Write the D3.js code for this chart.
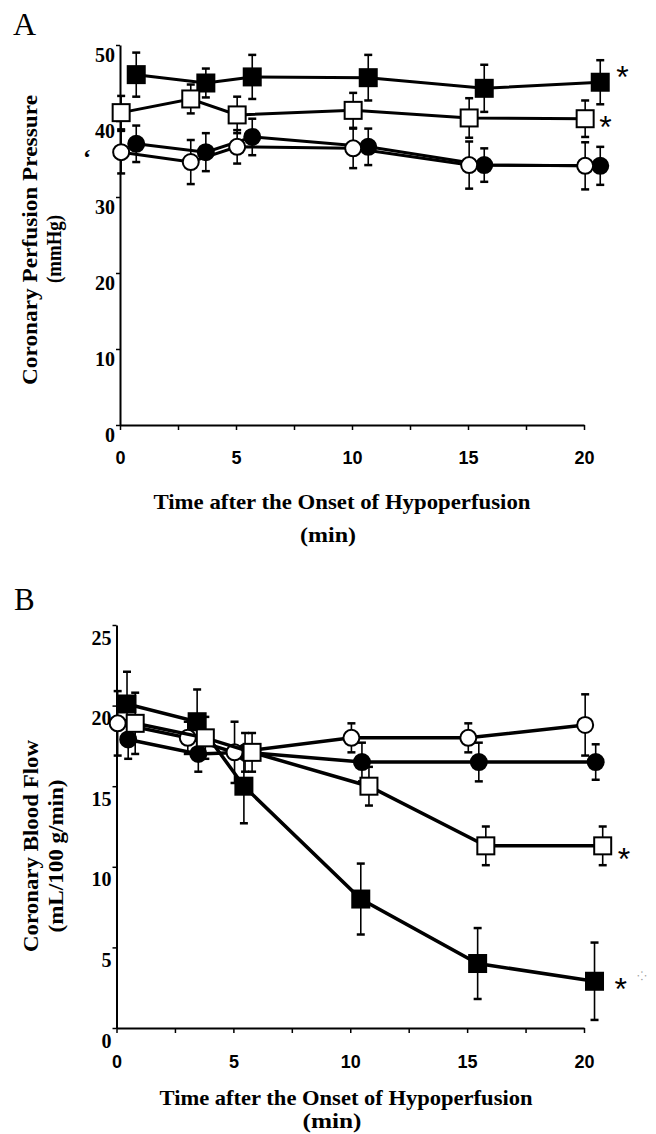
<!DOCTYPE html>
<html><head><meta charset="utf-8">
<script src="https://cdn.jsdelivr.net/npm/d3@7"></script>
<style>body{margin:0;background:#fff}svg{display:block}</style>
</head><body>
<script>
// ---------- data ----------
const times = [0, 3, 5, 10, 15, 20];
const xTickLabels = [0, 5, 10, 15, 20];
const xMinorTicks = [2.5, 7.5, 12.5, 17.5];

// Panel A: coronary perfusion pressure (mmHg)
const yTicksA = [0, 10, 20, 30, 40, 50];
const A_filledSquare    = [46.1, 45.0, 45.8, 45.7, 44.3, 45.1];
const A_filledSquareErr = [2.9, 1.9, 2.9, 3.0, 3.1, 2.9];
const A_openSquare      = [41.1, 42.9, 40.8, 41.4, 40.4, 40.3];
const A_openSquareErr   = [2.2, 1.9, 2.4, 2.3, 2.6, 2.4];
const A_openCircle      = [35.9, 34.6, 36.6, 36.4, 34.2, 34.1];
const A_openCircleErr   = [2.8, 2.9, 2.2, 2.6, 3.1, 3.1];
const A_filledCircle    = [37.0, 35.9, 37.9, 36.6, 34.2, 34.1];
const A_filledCircleErr = [2.4, 2.5, 2.4, 2.4, 2.2, 2.5];

// Panel B: coronary blood flow (mL/100 g/min)
const yTicksB = [0, 5, 10, 15, 20, 25];
const B_filledSquare    = [20.1, 19.0, 15.0, 8.0, 4.0, 2.9];
const B_filledSquareErr = [2.0, 2.0, 2.3, 2.2, 2.2, 2.4];
const B_openSquare      = [18.9, 18.0, 17.1, 15.0, 11.3, 11.3];
const B_openSquareErr   = [1.9, 1.3, 1.2, 1.2, 1.2, 1.2];
const B_openCircle      = [18.9, 18.0, 17.1, 18.0, 18.0, 18.8];
const B_openCircleErr   = [2.0, 1.0, 1.9, 0.9, 0.9, 1.9];
const B_filledCircle    = [17.9, 17.0, 17.1, 16.5, 16.5, 16.5];
const B_filledCircleErr = [1.2, 1.1, 1.2, 1.2, 1.2, 1.1];

// ---------- drawing ----------
const W = 656, H = 1134;
const svg = d3.select("body").append("svg").attr("width", W).attr("height", H)
  .style("background", "#fff");

const serif = "'Liberation Serif','Times New Roman',serif";
const sans = "'Liberation Sans',Arial,sans-serif";

function panel(cfg) {
  const x = d3.scaleLinear().domain([0, 20]).range(cfg.xRange);
  const y = d3.scaleLinear().domain([0, d3.max(cfg.yTicks)]).range(cfg.yRange);
  const g = svg.append("g");

  // y axis
  const ya = g.append("g").attr("transform", `translate(${cfg.xRange[0]},0)`)
    .call(d3.axisLeft(y).tickValues(cfg.yTicks).tickSize(4).tickSizeOuter(0).tickPadding(4));
  ya.attr("font-size", null).attr("font-family", null);
  ya.select(".domain").attr("stroke", "#000").attr("stroke-width", 2);
  ya.selectAll(".tick line").attr("stroke", "#000").attr("stroke-width", 1.5);
  ya.selectAll(".tick text").style("font-family", serif).style("font-weight", "bold")
    .style("font-size", "20px").attr("fill", "#000").attr("x", -5).attr("dy", cfg.yLabDy);

  // x axis
  const xa = g.append("g").attr("transform", `translate(0,${cfg.yRange[0]})`)
    .call(d3.axisBottom(x).tickValues(xTickLabels.concat(xMinorTicks)).tickSize(5).tickSizeOuter(0)
      .tickFormat(d => xTickLabels.includes(d) ? d : ""));
  xa.attr("font-size", null).attr("font-family", null);
  xa.select(".domain").attr("stroke", "#000").attr("stroke-width", 2);
  xa.selectAll(".tick line").attr("stroke", "#000").attr("stroke-width", 1.5);
  xa.selectAll(".tick text").style("font-family", sans).style("font-weight", "bold")
    .style("font-size", "18px").attr("fill", "#000").attr("y", cfg.xLabY).attr("dy", 0);

  // series
  cfg.series.forEach(s => {
    const pts = times.map((t, i) => ({ t: t + s.off, v: s.values[i], e: s.errs[i] }));
    const eg = g.append("g");
    pts.forEach(p => {
      eg.append("line").attr("x1", x(p.t)).attr("x2", x(p.t))
        .attr("y1", y(p.v - p.e)).attr("y2", y(p.v + p.e))
        .attr("stroke", "#000").attr("stroke-width", 1.6);
      [p.v - p.e, p.v + p.e].forEach(v => eg.append("line")
        .attr("x1", x(p.t) - 4).attr("x2", x(p.t) + 4).attr("y1", y(v)).attr("y2", y(v))
        .attr("stroke", "#000").attr("stroke-width", 2.5));
    });
    g.append("path").datum(pts)
      .attr("d", d3.line().x(p => x(p.t)).y(p => y(p.v)))
      .attr("fill", "none").attr("stroke", "#000").attr("stroke-width", cfg.lw);
    s.g = g.append("g");
    s.pts = pts;
  });
  // markers drawn afterwards (in series order)
  cfg.series.forEach(s => {
    s.pts.forEach(p => {
      if (s.shape === "square") {
        s.g.append("rect").attr("x", x(p.t) - 8.5).attr("y", y(p.v) - 8.5)
          .attr("width", 17).attr("height", 17)
          .attr("fill", s.filled ? "#000" : "#fff").attr("stroke", "#000").attr("stroke-width", 2);
      } else {
        s.g.append("circle").attr("cx", x(p.t)).attr("cy", y(p.v)).attr("r", 8)
          .attr("fill", s.filled ? "#000" : "#fff").attr("stroke", "#000").attr("stroke-width", 2);
      }
    });
  });

  // asterisks
  cfg.stars.forEach(st => {
    const last = st.series.pts[st.series.pts.length - 1];
    g.append("text").attr("x", x(last.t) + st.dx).attr("y", y(last.v) + 19 + (st.dy || 0))
      .attr("font-family", sans).attr("font-size", 32).attr("fill", "#000").text("*");
  });
  return { x, y, g };
}

// Panel A
const sA = [
  { values: A_filledCircle, errs: A_filledCircleErr, shape: "circle", filled: true, off: 0.7 },
  { values: A_openCircle, errs: A_openCircleErr, shape: "circle", filled: false, off: 0.05 },
  { values: A_filledSquare, errs: A_filledSquareErr, shape: "square", filled: true, off: 0.7 },
  { values: A_openSquare, errs: A_openSquareErr, shape: "square", filled: false, off: 0.05 },
];
panel({
  xRange: [120, 584], yRange: [425, 45], yTicks: yTicksA, yLabDy: "0.8em", xLabY: 39, lw: 3,
  series: sA,
  stars: [{ series: sA[2], dx: 16, dy: -13 }, { series: sA[3], dx: 14 }]
});

// Panel B
const sB = [
  { values: B_filledCircle, errs: B_filledCircleErr, shape: "circle", filled: true, off: 0.5 },
  { values: B_filledSquare, errs: B_filledSquareErr, shape: "square", filled: true, off: 0.45 },
  { values: B_openCircle, errs: B_openCircleErr, shape: "circle", filled: false, off: 0.05 },
  { values: B_openSquare, errs: B_openSquareErr, shape: "square", filled: false, off: 0.8 },
];
panel({
  xRange: [116.5, 584], yRange: [1028, 625], yTicks: yTicksB, yLabDy: "0.95em", xLabY: 40, lw: 3.5,
  series: sB,
  stars: [{ series: sB[1], dx: 20 }, { series: sB[3], dx: 15, dy: 5 }]
});
// faint dots next to the last asterisk
svg.append("text").attr("x", 637).attr("y", 980).attr("font-family", sans).attr("font-size", 12)
  .attr("fill", "#999").text("⁘");
// stray mark in panel A
svg.append("text").attr("x", 83).attr("y", 165).attr("font-family", serif).attr("font-weight", "bold")
  .attr("font-size", 24).attr("fill", "#000").text("ʻ");

// panel letters
svg.append("text").attr("x", 13).attr("y", 35).attr("font-family", serif).attr("font-size", 32).text("A");
svg.append("text").attr("x", 14).attr("y", 610).attr("font-family", serif).attr("font-size", 31).text("B");

// axis titles
function vtext(x, yc, txt, len) {
  svg.append("text").attr("transform", `translate(${x},${yc}) rotate(-90)`)
    .attr("text-anchor", "middle").attr("font-family", serif).attr("font-weight", "bold")
    .attr("font-size", 22).attr("textLength", len).attr("lengthAdjust", "spacingAndGlyphs")
    .attr("fill", "#000").text(txt);
}
function htext(xc, y, txt, len) {
  svg.append("text").attr("x", xc).attr("y", y)
    .attr("text-anchor", "middle").attr("font-family", serif).attr("font-weight", "bold")
    .attr("font-size", 22).attr("textLength", len).attr("lengthAdjust", "spacingAndGlyphs")
    .attr("fill", "#000").text(txt);
}
vtext(37, 240, "Coronary Perfusion Pressure", 290);
vtext(61, 249, "(mmHg)", 68);
htext(342, 509, "Time after the Onset of Hypoperfusion", 377);
htext(328, 542, "(min)", 56);

vtext(38, 846, "Coronary Blood Flow", 212);
vtext(63, 856, "(mL/100 g/min)", 153);
htext(346, 1105, "Time after the Onset of Hypoperfusion", 373);
htext(332, 1128, "(min)", 59);
</script>
</body></html>
